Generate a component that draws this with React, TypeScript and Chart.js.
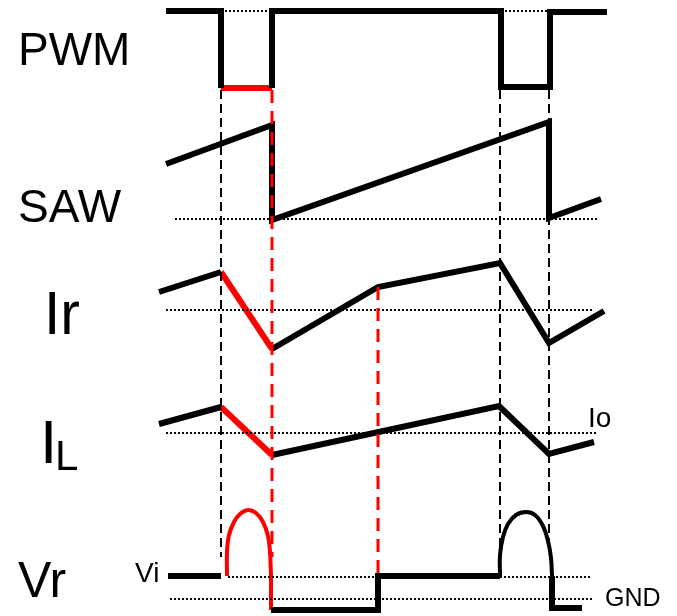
import React, { useEffect, useRef } from "react";
import { Chart, registerables } from "chart.js";

Chart.register(...registerables);

type P = { x: number; y: number };

// ---- signal traces (time on x, level on y, in picture units) ----
const pwmA: P[] = [{ x: 166, y: 11 }, { x: 221, y: 11 }, { x: 221, y: 88 }];
const pwmRed: P[] = [{ x: 221, y: 88 }, { x: 272, y: 88 }];
const pwmB: P[] = [
  { x: 272, y: 88 }, { x: 272, y: 11 }, { x: 501, y: 11 }, { x: 501, y: 87 },
  { x: 550, y: 87 }, { x: 550, y: 12 }, { x: 607, y: 12 },
];
const saw: P[] = [
  { x: 166, y: 164 }, { x: 272, y: 125 }, { x: 272, y: 220 },
  { x: 549, y: 122 }, { x: 549, y: 218 }, { x: 601, y: 199 },
];
const irA: P[] = [{ x: 159, y: 292 }, { x: 221, y: 272 }];
const irRed: P[] = [{ x: 221, y: 272 }, { x: 272, y: 349 }];
const irB: P[] = [
  { x: 272, y: 349 }, { x: 378, y: 287 }, { x: 500, y: 263 },
  { x: 549, y: 343 }, { x: 604, y: 311 },
];
const ilA: P[] = [{ x: 159, y: 424 }, { x: 221, y: 407 }];
const ilRed: P[] = [{ x: 221, y: 407 }, { x: 272, y: 455 }];
const ilB: P[] = [
  { x: 272, y: 455 }, { x: 499, y: 406 }, { x: 549, y: 454 }, { x: 594, y: 442 },
];
const vrA: P[] = [{ x: 168, y: 576 }, { x: 221, y: 576 }];
const vrRedArc: P[] = [
  { x: 227, y: 576 }, { x: 227, y: 552 }, { x: 229, y: 535 }, { x: 234, y: 522 },
  { x: 240, y: 514 }, { x: 248, y: 510 }, { x: 256, y: 513 }, { x: 263, y: 522 },
  { x: 268, y: 536 }, { x: 270, y: 552 }, { x: 271, y: 576 },
];
const vrRedDrop: P[] = [{ x: 271, y: 576 }, { x: 271, y: 610 }];
const vrB: P[] = [
  { x: 271, y: 610 }, { x: 378, y: 610 }, { x: 378, y: 576 }, { x: 500, y: 576 },
];
const vrBlackArc: P[] = [
  { x: 500, y: 576 }, { x: 500, y: 555 }, { x: 503, y: 537 }, { x: 508, y: 524 },
  { x: 516, y: 515 }, { x: 526, y: 512 }, { x: 535, y: 515 }, { x: 543, y: 526 },
  { x: 548, y: 541 }, { x: 551, y: 558 }, { x: 552, y: 576 },
];
const vrC: P[] = [{ x: 552, y: 576 }, { x: 552, y: 608 }, { x: 582, y: 608 }];

// ---- reference levels (dotted) ----
const refPwm1: P[] = [{ x: 221, y: 11 }, { x: 272, y: 11 }];
const refPwm2: P[] = [{ x: 501, y: 11 }, { x: 550, y: 11 }];
const refSaw: P[] = [{ x: 175, y: 219 }, { x: 597, y: 219 }];
const refIr: P[] = [{ x: 166, y: 310 }, { x: 592, y: 310 }];
const refIl: P[] = [{ x: 166, y: 433 }, { x: 598, y: 433 }];
const refVi: P[] = [{ x: 228, y: 577 }, { x: 592, y: 577 }];
const refGnd: P[] = [{ x: 170, y: 599 }, { x: 592, y: 599 }];

// ---- time markers (dashed) ----
const markBlack1: P[] = [{ x: 221, y: 90 }, { x: 221, y: 557 }];
const markRed1: P[] = [{ x: 272, y: 90 }, { x: 272, y: 557 }];
const markRed2: P[] = [{ x: 378, y: 287 }, { x: 378, y: 573 }];
const markBlack2: P[] = [{ x: 500, y: 90 }, { x: 500, y: 560 }];
const markBlack3: P[] = [{ x: 549, y: 90 }, { x: 549, y: 540 }];

// ---- labels ----
const labelTexts = ["PWM", "SAW", "Ir", "I", "L", "Vr", "Vi", "Io", "GND"];
const labelX = [18, 18, 44, 40, 55, 18, 135, 588, 605];
const labelY = [65, 222, 334, 463, 470, 597, 582, 427, 606];
const labelSize = [46, 46, 62, 62, 42, 50, 28, 28, 25];
const labelWidth = [114, 105, 36, 30, 24, 64, 28, 26, 63];

const BLACK = "#000000";
const RED = "#ff0000";

function line(data: P[], color: string, width: number, dash: number[] = [], tension = 0) {
  return {
    data,
    showLine: true,
    borderColor: color,
    backgroundColor: color,
    borderWidth: width,
    borderDash: dash,
    pointRadius: 0,
    pointHoverRadius: 0,
    fill: false,
    tension,
    borderCapStyle: "butt",
    borderJoinStyle: "miter",
  };
}

const labelPlugin = {
  id: "labels",
  afterDatasetsDraw(chart: any) {
    const ctx = chart.ctx;
    const xs = chart.scales.x;
    const ys = chart.scales.y;
    ctx.save();
    ctx.fillStyle = "#000";
    ctx.textBaseline = "alphabetic";
    ctx.textAlign = "left";
    labelTexts.forEach((t, i) => {
      ctx.font = `${labelSize[i]}px "Liberation Sans", Arial, sans-serif`;
      ctx.fillText(t, xs.getPixelForValue(labelX[i]), ys.getPixelForValue(labelY[i]), labelWidth[i]);
    });
    ctx.restore();
  },
};

export default function App() {
  const ref = useRef<HTMLCanvasElement | null>(null);
  useEffect(() => {
    document.body.style.margin = "0";
    const dotted = [2, 2];
    const blackDash = [9, 5];
    const redDash = [13, 8];
    const chart = new Chart(ref.current as HTMLCanvasElement, {
      type: "scatter",
      data: {
        datasets: [
          line(markBlack1, BLACK, 2, blackDash),
          line(markBlack2, BLACK, 2, blackDash),
          line(markBlack3, BLACK, 2, blackDash),
          line(markRed1, RED, 3, redDash),
          line(markRed2, RED, 3, redDash),
          line(refPwm1, BLACK, 2, dotted),
          line(refPwm2, BLACK, 2, dotted),
          line(refSaw, BLACK, 2, dotted),
          line(refIr, BLACK, 2, dotted),
          line(refIl, BLACK, 2, dotted),
          line(refVi, BLACK, 2, dotted),
          line(refGnd, BLACK, 2, dotted),
          line(pwmA, BLACK, 6),
          line(pwmB, BLACK, 6),
          line(pwmRed, RED, 6),
          line(saw, BLACK, 6),
          line(irA, BLACK, 6),
          line(irB, BLACK, 6),
          line(irRed, RED, 6),
          line(ilA, BLACK, 6),
          line(ilB, BLACK, 6),
          line(ilRed, RED, 6),
          line(vrA, BLACK, 6),
          line(vrB, BLACK, 6),
          line(vrC, BLACK, 6),
          line(vrRedArc, RED, 4, [], 0.4),
          line(vrRedDrop, RED, 4),
          line(vrBlackArc, BLACK, 4, [], 0.4),
        ] as any,
      },
      options: {
        responsive: false,
        animation: false,
        events: [],
        layout: { padding: 0 },
        plugins: { legend: { display: false }, tooltip: { enabled: false } },
        scales: {
          x: { type: "linear", min: 0, max: 677, display: false },
          y: { type: "linear", min: 0, max: 616, reverse: true, display: false },
        },
      },
      plugins: [labelPlugin],
    });
    return () => chart.destroy();
  }, []);
  return (
    <div style={{ position: "absolute", left: 0, top: 0, width: 677, height: 616, background: "#fff" }}>
      <canvas ref={ref} width={677} height={616} />
    </div>
  );
}
